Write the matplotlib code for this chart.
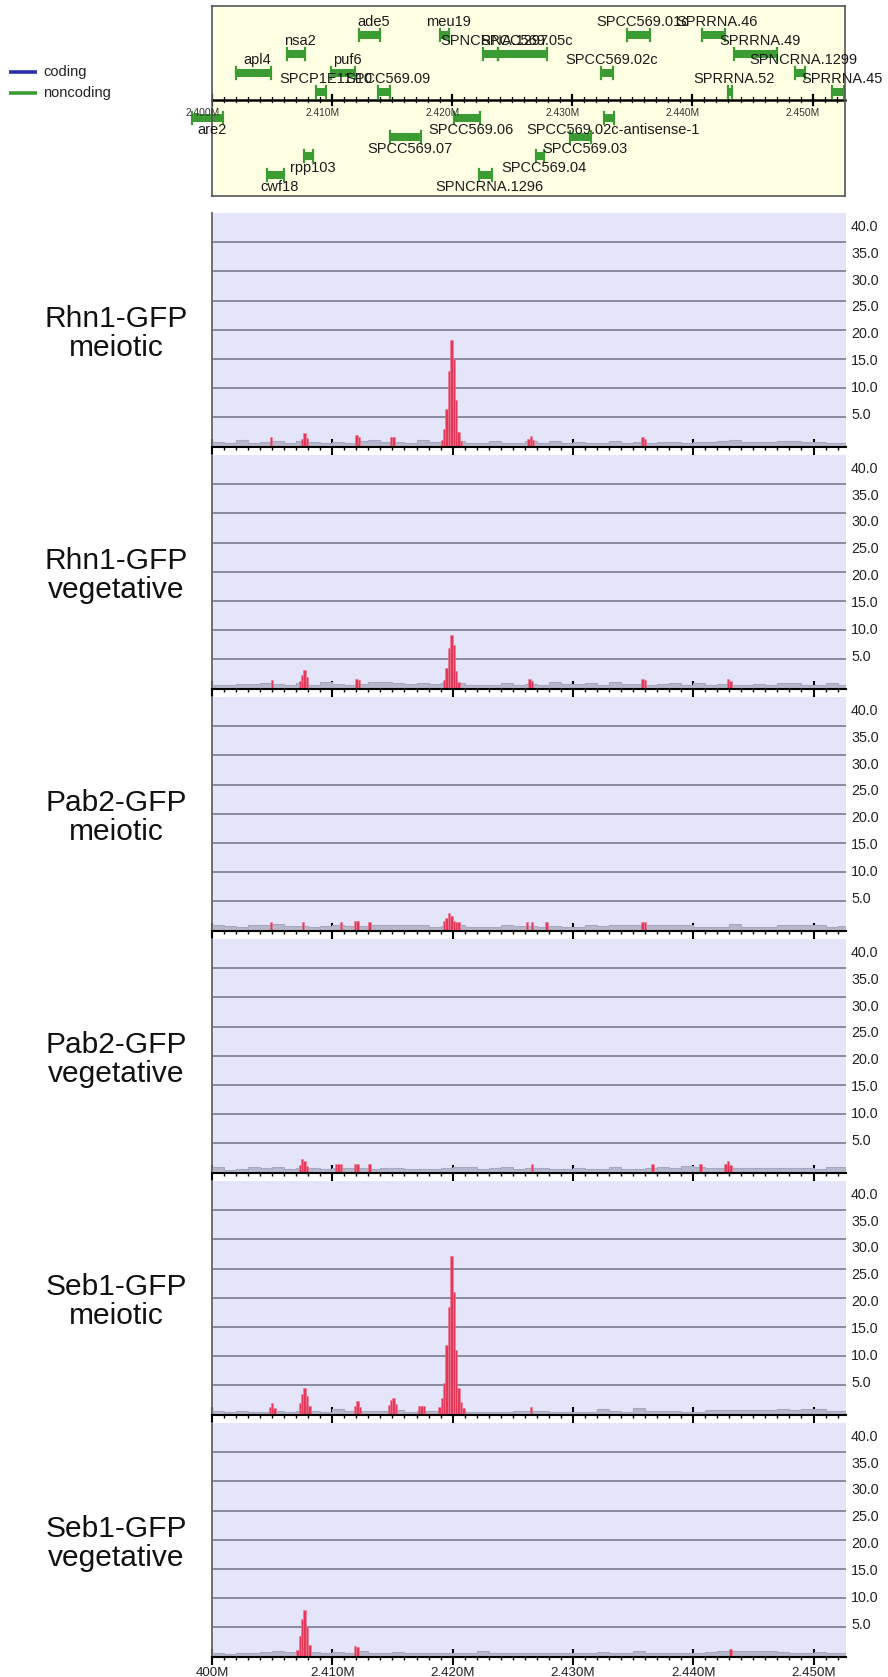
import numpy as np
import matplotlib
matplotlib.use("Agg")
import matplotlib.pyplot as plt

plt.rcParams['font.family'] = ['Liberation Sans', 'DejaVu Sans']

# view: 2.400M .. 2.4527M, all positions in kb from 2.400M
view_kb = 52.7

###### gene annotation ######
gene_names = ["apl4", "nsa2", "ade5", "meu19", "puf6", "SPCP1E11.10", "SPCC569.09",
              "SPNCRNA.1297", "SPCC569.05c", "SPCC569.01c", "SPRRNA.46", "SPRRNA.49",
              "SPCC569.02c", "SPNCRNA.1299", "SPRRNA.52", "SPRRNA.45",
              "are2", "SPCC569.06", "SPCC569.02c-antisense-1", "SPCC569.07", "SPCC569.03",
              "SPCC569.04", "rpp103", "cwf18", "SPNCRNA.1296"]
gene_start = [1.96, 6.23, 12.28, 18.95, 9.87, 8.68, 13.83,
              22.6, 23.8, 34.53, 40.77, 43.45,
              32.37, 48.5, 42.98, 51.62,
              -1.63, 20.17, 32.65, 14.86, 29.79,
              26.96, 7.65, 4.6, 22.25]
gene_end = [4.88, 7.71, 14.02, 19.76, 11.92, 9.53, 14.83,
            23.8, 27.9, 36.44, 42.7, 47.05,
            33.42, 49.35, 43.26, 52.6,
            0.91, 22.31, 33.48, 17.41, 31.54,
            27.66, 8.45, 5.98, 23.27]
# row 0-3 above the scale, 4-7 below
gene_row = [2, 1, 0, 0, 2, 3, 3,
            1, 1, 0, 0, 1,
            2, 2, 3, 3,
            4, 4, 4, 5, 5,
            6, 6, 7, 7]

###### signal tracks ######
track_names = ["Rhn1-GFP\nmeiotic", "Rhn1-GFP\nvegetative", "Pab2-GFP\nmeiotic",
               "Pab2-GFP\nvegetative", "Seb1-GFP\nmeiotic", "Seb1-GFP\nvegetative"]
y_ticks = [40, 35, 30, 25, 20, 15, 10, 5]
x_tick_labels = ["400M", "2.410M", "2.420M", "2.430M", "2.440M", "2.450M"]

# background coverage, 1 kb bins
bg_rhn1_mei = [0.8,0.7,1.2,0.7,0.8,0.9,0.6,0.9,0.8,0.7, 0.8,0.7,0.9,1.2,0.8,0.8,0.7,1.1,0.8,1.0,
               1.0,0.7,0.6,0.9,0.6,0.7,0.9,0.7,0.9,0.6, 0.8,0.6,0.7,1.0,0.6,0.8,0.6,0.8,0.8,0.7,
               0.8,0.8,1.0,1.2,0.8,0.8,0.8,1.0,0.9,0.8, 0.8,0.6,0.6]
bg_rhn1_veg = [0.7,0.6,0.8,0.8,0.9,0.8,0.6,0.9,0.7,1.1, 0.8,0.7,0.8,1.1,1.1,0.9,0.8,1.0,0.8,0.9,
               1.0,0.7,0.7,0.7,1.0,0.7,0.8,0.7,1.1,0.8, 0.8,1.0,0.7,1.2,0.8,0.8,0.7,0.8,1.0,0.7,
               1.0,0.7,0.8,0.7,0.7,0.8,0.7,1.0,1.0,0.7, 0.7,0.9,0.7]
bg_pab2_mei = [1.0,0.8,0.7,0.9,0.9,1.1,0.8,0.8,0.7,0.8, 0.9,0.8,0.8,0.9,0.9,1.0,0.9,0.9,0.7,0.8,
               0.9,0.6,0.6,0.6,0.9,0.8,0.8,0.7,0.8,0.7, 0.7,1.0,0.8,1.0,0.9,0.9,0.9,1.0,1.0,1.0,
               0.7,0.7,0.7,1.1,0.7,0.7,0.7,0.9,0.9,0.9, 0.9,0.7,0.8]
bg_pab2_veg = [0.9,0.5,0.6,0.9,0.8,1.0,0.7,0.8,0.8,0.6, 0.8,0.8,0.8,0.7,0.8,0.8,0.7,0.7,0.6,0.8,
               1.0,0.9,0.7,0.8,1.0,0.7,0.8,0.8,0.7,0.6, 0.8,0.7,0.7,0.9,0.7,0.7,0.8,0.9,0.8,1.1,
               0.9,0.8,0.8,0.8,0.8,0.8,0.8,0.8,0.8,0.8, 0.7,1.0,0.9]
bg_seb1_mei = [0.6,0.5,0.7,0.5,0.5,0.6,0.5,0.6,0.6,0.5, 0.9,0.7,0.7,0.6,0.6,0.8,0.5,0.6,0.7,0.8,
               0.8,0.5,0.5,0.5,0.5,0.6,0.7,0.6,0.5,0.5, 0.5,0.5,0.9,0.6,0.5,1.1,0.6,0.6,0.6,0.5,
               0.5,0.8,0.8,0.8,0.8,0.8,0.8,1.0,0.8,1.0, 1.0,0.6,0.6]
bg_seb1_veg = [0.7,0.5,0.7,0.7,0.8,1.0,0.8,0.9,0.8,0.7, 0.8,0.7,0.9,0.7,0.7,0.8,0.6,0.7,0.6,0.6,
               0.7,0.7,1.0,0.7,0.6,0.7,0.6,0.6,0.7,0.6, 0.6,0.6,0.8,0.6,0.6,1.0,0.6,0.6,0.6,0.6,
               0.6,0.8,0.9,0.9,0.9,0.9,0.9,0.8,0.6,0.6, 0.8,0.6,0.6]

# enriched regions (red): start kb, values in 0.2 kb bins
pk_rhn1_mei = [(4.8, [1.6]), (7.4, [1.4, 2.3, 1.5]), (11.9, [2.0, 1.6]), (14.8, [1.6, 1.6]),
               (19.0, [1.2, 3.0, 6.5, 13.0, 18.3, 15.0, 8.0, 2.5, 1.0]),
               (26.2, [1.4, 1.8, 1.2]), (35.7, [1.6, 1.4])]
pk_rhn1_veg = [(4.9, [1.5]), (7.2, [1.4, 2.4, 3.2, 2.0]), (11.9, [1.6, 1.5]),
               (19.2, [1.5, 3.5, 7.0, 9.2, 7.5, 3.0, 1.2]),
               (26.3, [1.6, 1.4]), (35.7, [1.7, 1.5]), (42.8, [1.7, 1.3])]
pk_pab2_mei = [(4.8, [1.5]), (7.45, [1.5]), (10.6, [1.5]), (11.8, [1.6, 1.65]), (13.0, [1.5]),
               (19.2, [1.6, 2.2, 3.0, 2.5, 1.6, 1.5, 1.5]),
               (26.1, [1.5]), (26.5, [1.5]), (27.7, [1.5]), (35.7, [1.5, 1.5])]
pk_pab2_veg = [(7.2, [1.4, 2.4, 2.0, 1.2]), (10.2, [1.5, 1.5, 1.5]), (11.8, [1.5, 1.5]),
               (13.0, [1.5]), (26.5, [1.5]), (36.5, [1.5]), (40.5, [1.5]),
               (42.6, [1.5, 1.95, 1.3])]
pk_seb1_mei = [(4.7, [1.3, 1.95, 1.2]), (7.2, [2.0, 3.5, 4.6, 3.2, 1.5]), (11.8, [1.5, 2.4, 1.3]),
               (14.6, [1.6, 2.6, 2.9, 1.8]), (17.1, [1.5, 1.5, 1.5]),
               (18.8, [1.3, 2.8, 5.5, 12.0, 18.5, 27.2, 21.0, 11.0, 4.5, 2.2, 1.2]),
               (26.4, [1.3])]
pk_seb1_veg = [(7.0, [1.2, 3.5, 6.5, 8.0, 5.0, 2.0]), (11.8, [1.84, 1.6]), (43.0, [1.27])]

bg_list = [bg_rhn1_mei, bg_rhn1_veg, bg_pab2_mei, bg_pab2_veg, bg_seb1_mei, bg_seb1_veg]
pk_list = [pk_rhn1_mei, pk_rhn1_veg, pk_pab2_mei, pk_pab2_veg, pk_seb1_mei, pk_seb1_veg]

W, H = 888, 1677
fig = plt.figure(figsize=(W / 100, H / 100), dpi=100)

def px_axes(x0, y0, x1, y1):
    # y measured from top of figure, in pixels
    return fig.add_axes([x0 / W, 1 - y1 / H, (x1 - x0) / W, (y1 - y0) / H])

# overlay in pixel coordinates for free text
ov = fig.add_axes([0, 0, 1, 1])
ov.set_xlim(0, W)
ov.set_ylim(H, 0)
ov.axis('off')

# legend
ov.plot([9, 37], [72.3, 72.3], color='#2f2fa8', lw=2.6, solid_capstyle='butt')
ov.plot([9, 37], [92.7, 92.7], color='#3c9c34', lw=2.6, solid_capstyle='butt')
ov.text(43, 72.3, "coding", fontsize=10.5, va='center', color='#222222')
ov.text(43, 92.7, "noncoding", fontsize=10.5, va='center', color='#222222')

###### gene panel ######
g_left, g_right = 212, 845
ga = px_axes(g_left, 6, g_right, 196)
ga.set_xlim(0, view_kb)
ga.set_ylim(196, 6)
ga.set_facecolor('#ffffe4')
for s in ga.spines.values():
    s.set_color('#555555')
    s.set_linewidth(1.2)
ga.set_xticks([])
ga.set_yticks([])

axis_y = 100
ga.plot([0, view_kb], [axis_y, axis_y], color='black', lw=1.8, clip_on=False)
for k in range(0, 53):
    if k % 10 == 0:
        ga.plot([k, k], [95, 105], color='black', lw=1.6)
        ga.text(k - 0.8, 112.5, "%.3fM" % (2.4 + k / 1000), fontsize=7.4,
                ha='center', va='center', color='#333333', clip_on=False)
    else:
        ga.plot([k, k], [97.5, 102.5], color='black', lw=0.9)

row_y = [35, 54, 73, 92, 118, 137, 156, 175]
green = '#3c9c34'
for name, s, e, r in zip(gene_names, gene_start, gene_end, gene_row):
    y = row_y[r]
    ga.fill_between([s, e], y - 3.6, y + 3.6, color=green, lw=0, clip_on=False)
    ga.plot([s, s], [y - 6, y + 6], color=green, lw=1.6, clip_on=False)
    ga.plot([e, e], [y - 6, y + 6], color=green, lw=1.6, clip_on=False)
    ly = y - 13 if r < 4 else y + 12
    ga.text((s + e) / 2 + 0.35, ly, name, fontsize=10.5, ha='center', va='center',
            color='#1a1a1a', clip_on=False)

###### signal tracks ######
t_left, t_right = 212, 846
for i in range(6):
    top = 213 + 242 * i
    bot = top + 233.7
    ax = px_axes(t_left, top, t_right, bot)
    ax.set_xlim(0, view_kb)
    ax.set_ylim(0, 40)
    ax.set_facecolor('#e5e5fa')
    for v in y_ticks[1:]:
        ax.axhline(v, color='#707088', lw=1.1, zorder=1)

    bg = bg_list[i]
    ax.stairs(bg, np.arange(len(bg) + 1), fill=True, color='#b6b6cc', zorder=2)
    ax.stairs(bg, np.arange(len(bg) + 1), color='#a8a8c0', lw=0.8, zorder=2)
    for start, vals in pk_list[i]:
        xs = start + 0.2 * np.arange(len(vals))
        ax.bar(xs, vals, width=0.2, align='edge', color='#e4375a',
               edgecolor='#f07a90', linewidth=0.4, zorder=3)

    ax.spines['top'].set_visible(False)
    ax.spines['right'].set_visible(False)
    ax.spines['left'].set_color('#666666')
    ax.spines['left'].set_linewidth(1.3)
    ax.spines['bottom'].set_color('black')
    ax.spines['bottom'].set_linewidth(1.5)
    ax.spines['bottom'].set_zorder(4)
    ax.set_yticks([])
    ax.set_xticks(np.arange(0, 51, 10))
    ax.set_xticks(np.arange(0, 53, 1), minor=True)
    ax.tick_params(axis='x', which='major', direction='inout', length=11, width=1.5, color='black')
    ax.tick_params(axis='x', which='minor', direction='inout', length=5, width=1.0, color='black')
    if i == 5:
        ax.set_xticklabels(x_tick_labels, fontsize=9.6, color='#222222')
        ax.tick_params(axis='x', which='major', pad=2)
    else:
        ax.set_xticklabels([])

    for k, v in enumerate(y_ticks):
        ov.text(851, top + 13.7 + k * 26.9, "%.1f" % v, fontsize=10.3,
                ha='left', va='center', color='#222222')

    ov.text(116, (top + bot) / 2 + 4, track_names[i], fontsize=21.5, ha='center',
            va='center', linespacing=1.05, color='#111111')

fig.savefig("out.png", dpi=100)
